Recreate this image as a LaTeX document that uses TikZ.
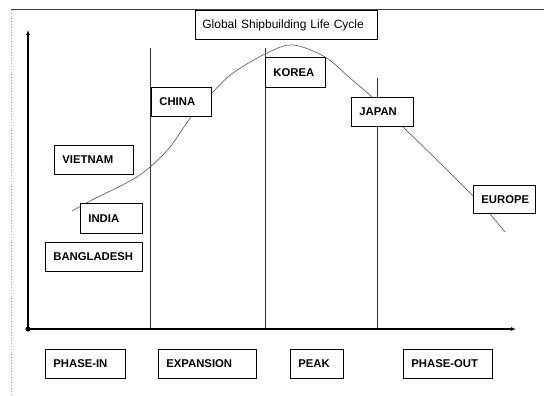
\documentclass[tikz,border=0pt]{standalone}
\usepackage{fontspec}
\setmainfont{Liberation Sans}
\usetikzlibrary{arrows.meta}
\begin{document}
\begin{tikzpicture}[x=1pt,y=-1pt,
  lbl/.style={draw=black, line width=0.8pt, fill=white, inner xsep=8pt, inner ysep=0pt,
    anchor=north west, align=left, text width=#1,
    font=\bfseries\fontsize{11.3}{13}\selectfont},
  ttl/.style={draw=black, line width=0.8pt, fill=white, inner xsep=7pt, inner ysep=0pt,
    anchor=north west, align=left, text width=#1, font=\fontsize{12}{14}\selectfont},
  phase/.style={draw=black!80, line width=0.8pt},
  axis/.style={draw=black, line width=1.4pt},
  curve/.style={draw=black!60, line width=0.7pt}]
\useasboundingbox (0,0) rectangle (544,396);
% frame
\draw[black!35, dotted, line width=0.8pt] (11,10) -- (11,396);
\draw[black!75, line width=1pt] (11,10) -- (544,10);
% phase separators
\coordinate (s1t) at (150,48); \coordinate (s1b) at (150,329);
\coordinate (s2t) at (265,48); \coordinate (s2b) at (265,329);
\coordinate (s3t) at (377,78); \coordinate (s3b) at (377,329);
\draw[phase] (s1t) -- (s1b);
\draw[phase] (s2t) -- (s2b);
\draw[phase] (s3t) -- (s3b);
% axes
\coordinate (o) at (28,329);
\coordinate (ytop) at (28,30);
\coordinate (xend) at (516,329);
\draw[axis, -{Latex[length=5pt,width=4pt]}] (o) -- (ytop);
\draw[axis, -{Latex[length=5pt,width=4pt]}] (o) -- (xend);
\fill (o) circle (2.6);
% life-cycle curve
\draw[curve] plot[smooth, tension=0.55] coordinates {(72,211) (92,200) (130,181) (150,167) (170,147) (191,117) (212,93) (233,73) (267,53) (293,45) (325,57) (350,78) (372,97) (403,127) (440,163) (473,196) (490,214) (505,232)};
% title
\node[ttl=168pt, minimum height=29] (title) at (195,10) {Global Shipbuilding Life Cycle};
% country boxes
\node[lbl=44pt, minimum height=29] (china) at (151,87) {CHINA};
\node[lbl=63pt, minimum height=29] (vietnam) at (54,145) {VIETNAM};
\node[lbl=44pt, minimum height=30] (korea) at (265,57) {KOREA};
\node[lbl=46pt, minimum height=29] (japan) at (351,97) {JAPAN};
\node[lbl=46pt, minimum height=28] (europe) at (473,185) {EUROPE};
\node[lbl=46pt, minimum height=30] (india) at (80,203) {INDIA};
\node[lbl=81pt, minimum height=29] (bangladesh) at (45,242) {BANGLADESH};
% phase boxes
\node[lbl=64pt, minimum height=29] (phasein) at (45,349) {PHASE-IN};
\node[lbl=82pt, minimum height=29] (expansion) at (158,349) {EXPANSION};
\node[lbl=37pt, minimum height=29] (peak) at (290,349) {PEAK};
\node[lbl=73pt, minimum height=29] (phaseout) at (403,349) {PHASE-OUT};
\end{tikzpicture}
\end{document}
